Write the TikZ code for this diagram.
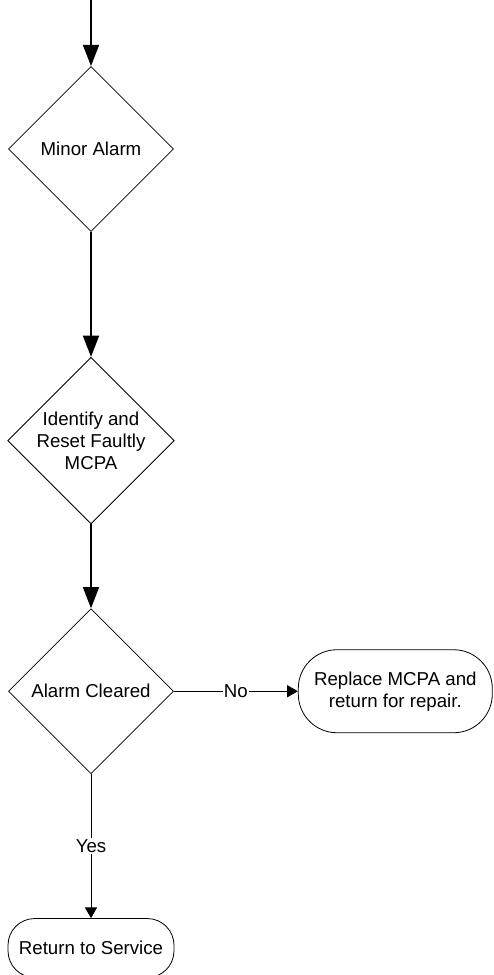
\documentclass[tikz,border=0pt]{standalone}
\usepackage{fontspec}
\setmainfont{Liberation Sans}
\usetikzlibrary{shapes.geometric,arrows.meta,positioning}
\tikzset{
  decbox/.style={
    diamond, aspect=1,
    draw=black, fill=white, line width=0.6pt,
    minimum width=123.75pt, minimum height=123.75pt,
    inner sep=0pt, align=center,
    font=\fontsize{14}{16.5}\selectfont
  },
  termbox/.style={
    rectangle, rounded corners=#1,
    draw=black, fill=white, line width=0.6pt,
    inner sep=0pt, align=center,
    font=\fontsize{14}{16.5}\selectfont
  },
  bigarr/.style={-{Triangle[length=16pt,width=12pt]}, line width=1.5pt},
  smallarr/.style={-{Triangle[length=8pt,width=9pt]}, line width=0.75pt},
  lbl/.style={fill=white, inner sep=1pt, font=\fontsize{14}{16.5}\selectfont},
}
\begin{document}
\begin{tikzpicture}[node distance=93.75pt]
  \useasboundingbox (0,0) rectangle (369.75pt,-731.25pt);

  % Entry point
  \coordinate (start) at (68.25pt,0pt);

  % Decisions
  \node[decbox] (minor) at (68.25pt,-111.75pt) {Minor Alarm};
  \node[decbox, below=of minor] (reset) {Identify and\\Reset Faultly\\MCPA};
  \node[decbox, below=63pt of reset] (clear) {Alarm Cleared};

  % Terminals
  \node[termbox=29pt, minimum width=145.5pt, minimum height=62.25pt,
        right=93pt of clear] (replace) {Replace MCPA and\\return for repair.};
  \node[termbox=20pt, minimum width=124.5pt, minimum height=44.25pt,
        below=108pt of clear] (service) {Return to Service};

  % Arrows
  \draw[bigarr] (start) -- (minor);
  \draw[bigarr] (minor) -- (reset);
  \draw[bigarr] (reset) -- (clear);
  \draw[smallarr] (clear) -- node[lbl] {No} (replace);
  \draw[smallarr] (clear) -- node[lbl] {Yes} (service);
\end{tikzpicture}
\end{document}
